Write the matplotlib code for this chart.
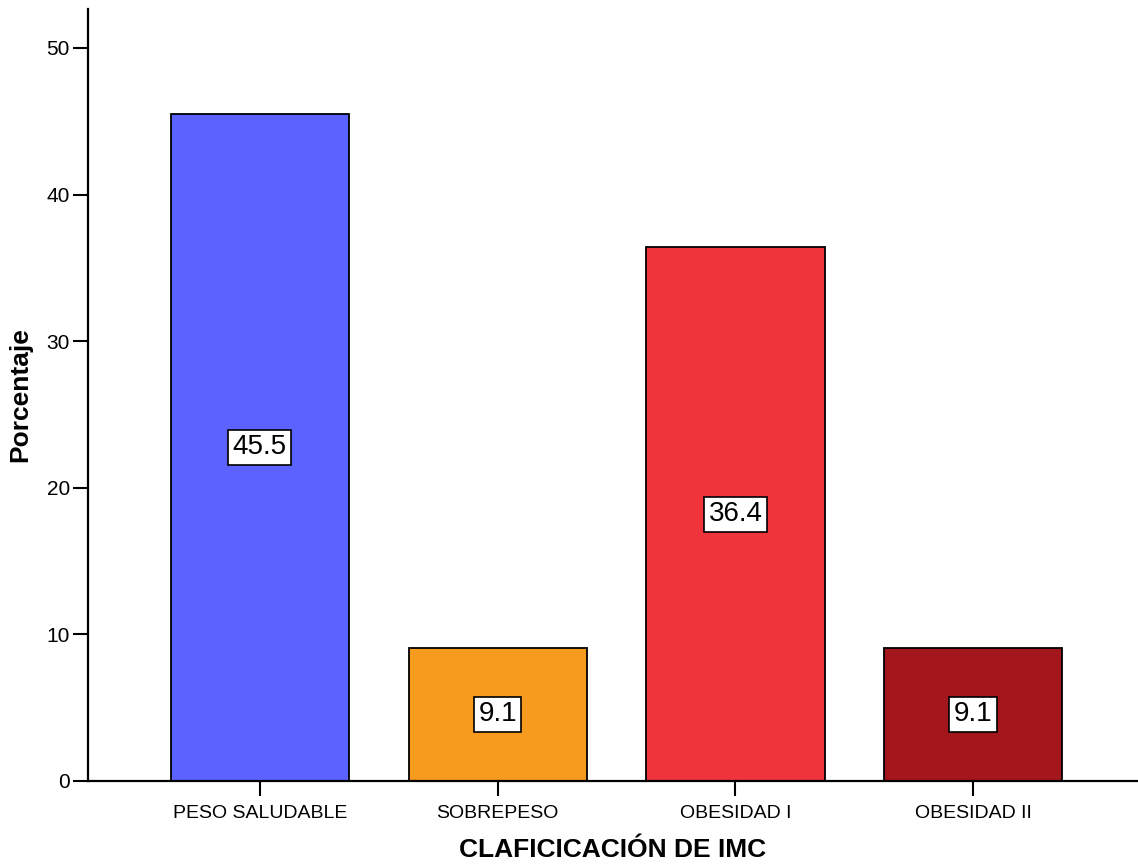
import matplotlib
matplotlib.use('Agg')
import matplotlib.pyplot as plt

categories = ['PESO SALUDABLE', 'SOBREPESO', 'OBESIDAD I', 'OBESIDAD II']
percentages = [45.5, 9.1, 36.4, 9.1]
bar_colors = ['#5C62FF', '#F79B1E', '#F0343C', '#A3171C']
y_ticks = [0, 10, 20, 30, 40, 50]

plt.rcParams['font.family'] = ['Liberation Sans', 'DejaVu Sans']

fig = plt.figure(figsize=(11.38, 8.65), dpi=100)
ax = fig.add_axes([88 / 1138, 84 / 865, 1 - 88 / 1138, (781 - 9) / 865])

x = list(range(len(categories)))
ax.bar(x, percentages, width=0.75, color=bar_colors, edgecolor='black', linewidth=1.3, zorder=2)

# etiquetas de valor en el centro de cada barra
for xi, v in zip(x, percentages):
    ax.text(xi, v / 2, f'{v:.1f}', ha='center', va='center', fontsize=20,
            bbox=dict(boxstyle='square,pad=0.16', facecolor='white', edgecolor='black', linewidth=1.2),
            zorder=3)

ax.set_xlim(-0.723, 3.693)
ax.set_ylim(0, 52.66)
ax.set_xticks(x)
ax.set_xticklabels(categories, fontsize=14)
ax.set_yticks(y_ticks)
ax.tick_params(axis='y', labelsize=15, length=11, width=1.5, pad=2)
ax.tick_params(axis='x', length=11, width=1.5, pad=6)

for side in ['top', 'right']:
    ax.spines[side].set_visible(False)
for side in ['left', 'bottom']:
    ax.spines[side].set_linewidth(1.6)

ax.set_xlabel('CLAFICICACIÓN DE IMC', fontsize=19, fontweight='bold', labelpad=12)
ax.set_ylabel('Porcentaje', fontsize=19, fontweight='bold', labelpad=10)

fig.savefig('out.png', dpi=100)
